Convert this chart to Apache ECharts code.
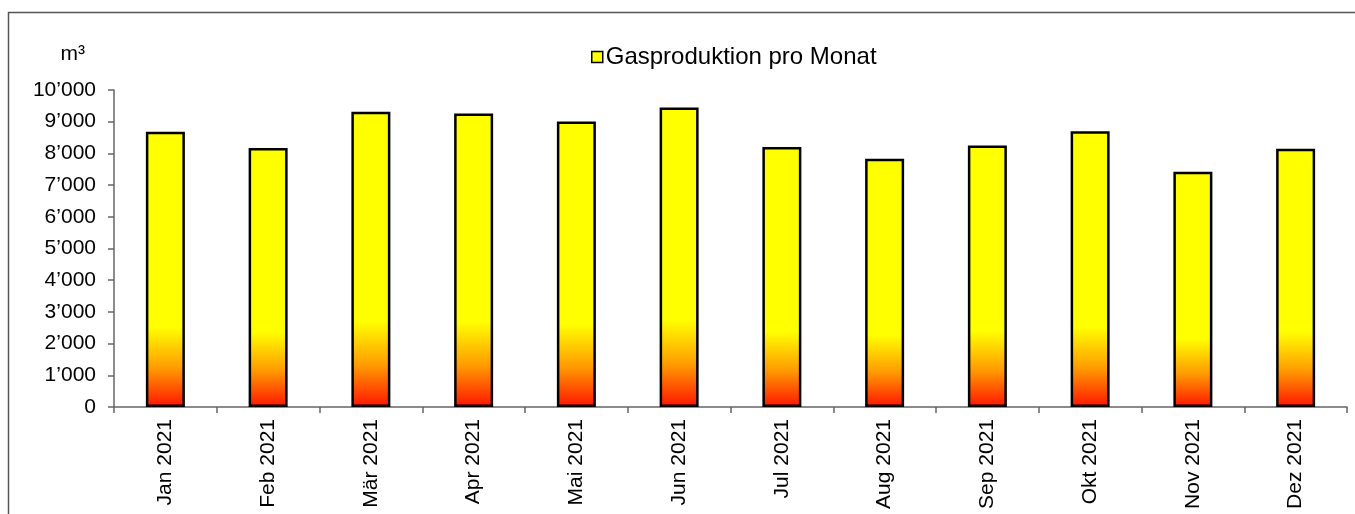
<!DOCTYPE html>
<html>
<head>
<meta charset="utf-8">
<script src="https://cdn.jsdelivr.net/npm/echarts@6/dist/echarts.min.js"></script>
<style>
  html, body { margin: 0; padding: 0; background: #fff; }
  #chart { width: 1355px; height: 514px; }
</style>
</head>
<body>
<div id="chart"></div>
<script>
// Monthly gas production 2021 (m³)
const months = ['Jan 2021', 'Feb 2021', 'Mär 2021', 'Apr 2021', 'Mai 2021', 'Jun 2021',
                'Jul 2021', 'Aug 2021', 'Sep 2021', 'Okt 2021', 'Nov 2021', 'Dez 2021'];
const gasPerMonth = [8680, 8170, 9310, 9260, 9010, 9450, 8200, 7830, 8250, 8700, 7420, 8150];
const yTicks = { min: 0, max: 10000, step: 1000 };
const seriesName = 'Gasproduktion pro Monat';
const unitLabel = 'm³';

const FONT = '"Liberation Sans", Arial, sans-serif';

// Swiss-style thousands separator: 10’000
function fmtThousands(v) {
  return String(v).replace(/\B(?=(\d{3})+(?!\d))/g, '\u2019');
}

const barFill = new echarts.graphic.LinearGradient(0, 0, 0, 1, [
  { offset: 0, color: '#FFFF00' },
  { offset: 0.71, color: '#FFFF00' },
  { offset: 0.86, color: '#FF9A00' },
  { offset: 1, color: '#FF1400' }
]);

const chart = echarts.init(document.getElementById('chart'), null, { renderer: 'canvas' });
chart.setOption({
  animation: false,
  backgroundColor: '#fff',
  textStyle: { fontFamily: FONT, color: '#000' },
  graphic: [{
    type: 'rect',
    silent: true,
    shape: { x: 8.5, y: 12.5, width: 1400, height: 600 },
    style: { fill: 'none', stroke: '#555', lineWidth: 1.5 }
  }],
  legend: {
    left: 586,
    top: 40,
    icon: 'rect',
    itemWidth: 11,
    itemHeight: 11,
    itemGap: 6,
    textStyle: { fontFamily: FONT, fontSize: 24, color: '#000', padding: [0, 0, 0, -2] },
    itemStyle: { color: '#FFFF00', borderColor: '#000', borderWidth: 1.5 },
    data: [seriesName]
  },
  grid: {
    left: 114,
    right: 8,
    top: 90,
    bottom: 107,
    containLabel: false,
    outerBoundsMode: 'none'
  },
  xAxis: {
    type: 'category',
    data: months,
    boundaryGap: true,
    axisLine: { lineStyle: { color: '#666', width: 1.5 } },
    axisTick: { show: true, alignWithLabel: false, inside: false, length: 6, lineStyle: { color: '#666', width: 1.5 } },
    axisLabel: {
      rotate: 90,
      margin: 12,
      interval: 0,
      fontFamily: FONT,
      fontSize: 21,
      color: '#000'
    },
    splitLine: { show: false }
  },
  yAxis: {
    type: 'value',
    min: yTicks.min,
    max: yTicks.max,
    interval: yTicks.step,
    name: unitLabel,
    nameLocation: 'end',
    nameGap: 36,
    nameTextStyle: {
      fontFamily: FONT,
      fontSize: 21,
      color: '#000',
      align: 'right',
      verticalAlign: 'middle',
      padding: [0, 29, 0, 0]
    },
    axisLine: { show: true, lineStyle: { color: '#666', width: 1.5 } },
    axisTick: { show: true, inside: false, length: 6, lineStyle: { color: '#666', width: 1.5 } },
    axisLabel: {
      margin: 18,
      fontFamily: FONT,
      fontSize: 21,
      color: '#000',
      formatter: fmtThousands
    },
    splitLine: { show: false }
  },
  series: [{
    name: seriesName,
    type: 'bar',
    data: gasPerMonth,
    barWidth: 39,
    itemStyle: {
      color: barFill,
      borderColor: '#000',
      borderWidth: 2.5
    }
  }]
});
</script>
</body>
</html>
